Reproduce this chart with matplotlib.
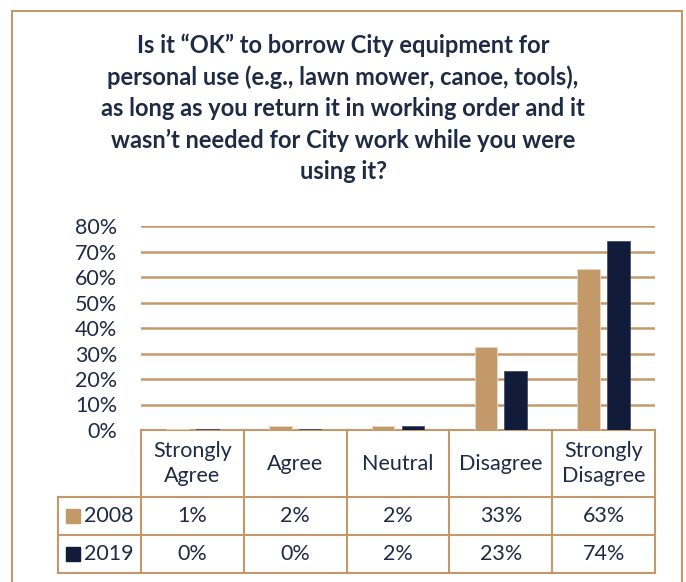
import matplotlib.pyplot as plt
import matplotlib.patches as mpatches
import numpy as np

plt.rcParams['font.family'] = ['Lato', 'DejaVu Sans']

# data
categories = ['Strongly\nAgree', 'Agree', 'Neutral', 'Disagree', 'Strongly\nDisagree']
years = ['2008', '2019']
vals_2008 = [0.5, 1.5, 1.6, 32.5, 63]
vals_2019 = [0.2, 0.3, 1.5, 23, 74]
labels_2008 = ['1%', '2%', '2%', '33%', '63%']
labels_2019 = ['0%', '0%', '2%', '23%', '74%']
yticks = [0, 10, 20, 30, 40, 50, 60, 70, 80]

tan = '#C4996A'
navy = '#111C3A'
txt = '#1F2A44'
fs = 15.5

fig = plt.figure(figsize=(6.86, 5.82), dpi=100)
# outer frame
fig.add_artist(mpatches.Rectangle((12 / 686, -0.01), 670 / 686, 1 - 11 / 582 + 0.01,
                                  transform=fig.transFigure, fill=False,
                                  edgecolor=tan, lw=1.5))

ax = fig.add_axes([141 / 686, 1 - 430 / 582, 514 / 686, 204 / 582])

x = np.arange(len(categories))
w = 0.22
ax.bar(x - 0.145, vals_2008, width=w, color=tan, edgecolor='#E8D8C4', lw=0.6, zorder=3)
ax.bar(x + 0.145, vals_2019, width=w, color=navy, edgecolor='#4A5066', lw=0.6, zorder=3)

ax.set_xlim(-0.5, 4.5)
ax.set_ylim(0, 80)
ax.set_yticks(yticks)
ax.set_yticklabels([f'{t}%' for t in yticks], fontsize=fs, color=txt)
ax.tick_params(axis='y', length=0, pad=17)
ax.set_xticks([])
ax.grid(axis='y', color=tan, lw=1.8, zorder=0)
for s in ax.spines.values():
    s.set_visible(False)

fig.text(0.5, 1 - 34 / 582,
         'Is it \u201cOK\u201d to borrow City equipment for\n'
         'personal use (e.g., lawn mower, canoe, tools),\n'
         'as long as you return it in working order and it\n'
         'wasn\u2019t needed for City work while you were\n'
         'using it?',
         ha='center', va='top', fontsize=17, fontweight='bold', color=txt,
         linespacing=1.42)

# data table under the axes
trans = ax.get_xaxis_transform()
row_y = [0, -67 / 204, -105 / 204, -143 / 204]
left = -0.5 - 83 / 102.8
kw = dict(color=tan, lw=1.5, transform=trans, clip_on=False)

ax.plot([-0.5, 4.5], [row_y[0], row_y[0]], **kw)
for yy in row_y[1:]:
    ax.plot([left, 4.5], [yy, yy], **kw)
for xv in np.arange(len(categories) + 1) - 0.5:
    ax.plot([xv, xv], [row_y[0], row_y[3]], **kw)
ax.plot([left, left], [row_y[1], row_y[3]], **kw)

for i, c in enumerate(categories):
    ax.text(i, (row_y[0] + row_y[1]) / 2, c, transform=trans, ha='center', va='center',
            fontsize=fs, color=txt, linespacing=1.35)
    ax.text(i, (row_y[1] + row_y[2]) / 2, labels_2008[i], transform=trans,
            ha='center', va='center', fontsize=fs, color=txt)
    ax.text(i, (row_y[2] + row_y[3]) / 2, labels_2019[i], transform=trans,
            ha='center', va='center', fontsize=fs, color=txt)

for k, (yr, col) in enumerate(zip(years, [tan, navy])):
    yc = (row_y[k + 1] + row_y[k + 2]) / 2
    ax.add_patch(mpatches.Rectangle((left + 0.08, yc - 0.034), 0.135, 0.068,
                                    transform=trans, color=col, clip_on=False))
    ax.text(left + 0.25, yc, yr, transform=trans, ha='left', va='center',
            fontsize=fs, color=txt)

plt.savefig('out.png', dpi=100)
